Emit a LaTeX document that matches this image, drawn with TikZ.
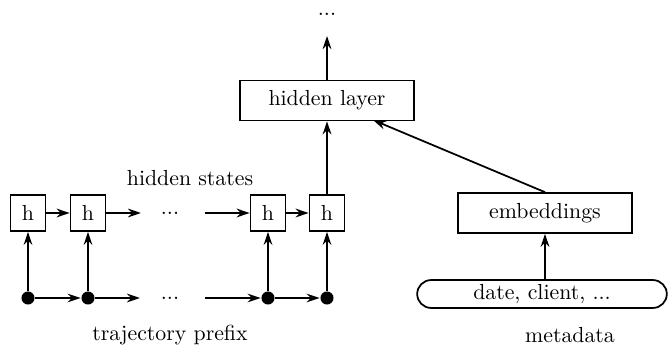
\documentclass[tikz,border=0pt]{standalone}
\usetikzlibrary{arrows.meta,shapes.misc}
\begin{document}
\begin{tikzpicture}[x=0.4587pt,y=-0.4587pt,
  line width=0.8pt,
  arr/.style={-{Stealth[length=6pt,width=4pt,inset=2pt]}},
  hbox/.style={draw,minimum width=16pt,minimum height=16.5pt,inner sep=0pt},
  bigbox/.style={draw,minimum width=80pt,minimum height=18.3pt,inner sep=0pt},
  dot/.style={circle,fill,inner sep=0pt,minimum size=6pt},
  lbl/.style={inner sep=0pt}]
\useasboundingbox (0,0) rectangle (669,354);
\node[lbl] (top) at (327,14) {...};
\node[bigbox] (hl) at (327,100.5) {hidden layer};
\node[hbox] (h1) at (28,213) {h};
\node[hbox] (h2) at (88,213) {h};
\node[lbl] (hd) at (170,213) {...};
\node[hbox] (h4) at (268,213) {h};
\node[hbox] (h5) at (327,213) {h};
\node[dot] (d1) at (28,298) {};
\node[dot] (d2) at (88,298) {};
\node[lbl] (dd) at (170,298) {...};
\node[dot] (d4) at (268,298) {};
\node[dot] (d5) at (327,298) {};
\node[lbl] (hs) at (190,178) {hidden states};
\node[lbl] (tp) at (170,335) {trajectory prefix};
\node[bigbox] (emb) at (545,213) {embeddings};
\node[draw,rounded rectangle,minimum width=114.5pt,minimum height=12.8pt,inner sep=0pt] (meta) at (542,294) {date, client, ...};
\node[lbl] (md) at (570,335) {metadata};
\coordinate (hlin) at (373,120);
\coordinate (ha) at (141,213);
\coordinate (hb) at (205,213);
\coordinate (da) at (140,298);
\coordinate (db) at (205,298);
\coordinate (topin) at (327,36);
\draw[arr] (hl.north) -- (topin);
\draw[arr] (h1) -- (h2);
\draw[arr] (h2) -- (ha);
\draw[arr] (hb) -- (h4);
\draw[arr] (h4) -- (h5);
\draw[arr] (d1) -- (d2);
\draw[arr] (d2) -- (da);
\draw[arr] (db) -- (d4);
\draw[arr] (d4) -- (d5);
\draw[arr] (d1) -- (h1);
\draw[arr] (d2) -- (h2);
\draw[arr] (d4) -- (h4);
\draw[arr] (d5) -- (h5);
\draw[arr] (h5) -- (hl);
\draw[arr] (meta.north -| emb.south) -- (emb.south);
\draw[arr] (emb.north) -- (hlin);
\end{tikzpicture}
\end{document}
